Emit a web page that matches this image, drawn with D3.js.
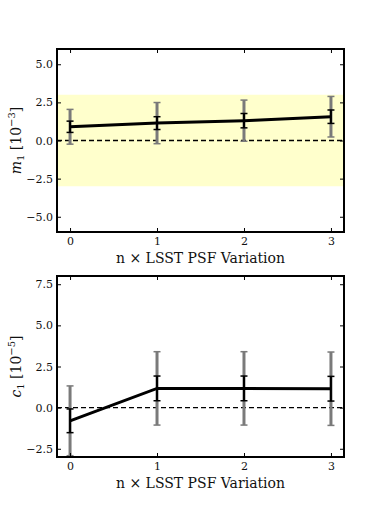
<!DOCTYPE html>
<html>
<head>
<meta charset="utf-8">
<script src="https://cdn.jsdelivr.net/npm/d3@7"></script>
<style>
    body { margin: 0; background: #fff; }
    svg { display: block; }
    text { font-family: "DejaVu Serif", serif; fill: #111; }
</style>
</head>
<body>
<svg id="chart" width="382" height="509"></svg>
<script>
const nVals = [0, 1, 2, 3];
const xTicks = [0, 1, 2, 3];

const m1 = [0.90, 1.14, 1.30, 1.56];
const m1ErrOuter = [1.14, 1.35, 1.35, 1.33];
const m1ErrInner = [0.37, 0.42, 0.47, 0.44];
const m1Band = [-3, 3];
const m1Ticks = [-5, -2.5, 0, 2.5, 5];

const c1 = [-0.80, 1.17, 1.17, 1.15];
const c1ErrOuter = [2.12, 2.23, 2.23, 2.23];
const c1ErrInner = [0.72, 0.75, 0.75, 0.75];
const c1Ticks = [-2.5, 0, 2.5, 5, 7.5];

const svg = d3.select("#chart");
const fmt = d => d3.format(".1f")(d).replace("-", "\u2212");

function panel(opts) {
    let left = 57, right = 344,
        top = opts.top, bottom = opts.bottom,
        g = svg.append("g");

    let x = d3.scaleLinear().domain([-0.15, 3.15]).range([left, right]);
    let y = d3.scaleLinear().domain(opts.yDomain).range([bottom, top]);

    let clipId = "clip" + opts.name;
    svg.append("clipPath").attr("id", clipId)
        .append("rect")
        .attr("x", left).attr("y", top)
        .attr("width", right - left).attr("height", bottom - top);

    let plot = g.append("g").attr("clip-path", "url(#" + clipId + ")");

    if (opts.band) {
        plot.append("rect")
            .attr("x", left)
            .attr("width", right - left)
            .attr("y", y(opts.band[1]))
            .attr("height", y(opts.band[0]) - y(opts.band[1]))
            .attr("fill", "#ffffcc");
    }

    plot.append("line")
        .attr("x1", left).attr("x2", right)
        .attr("y1", y(0)).attr("y2", y(0))
        .attr("stroke", "#000")
        .attr("stroke-width", 1.3)
        .attr("stroke-dasharray", "5,3");

    let pts = nVals.map((n, i) => ({n: n, v: opts.vals[i], eo: opts.errOuter[i], ei: opts.errInner[i]}));

    function errorBars(key, color, width, cap) {
        let eb = plot.append("g").selectAll("g")
            .data(pts)
            .enter().append("g")
            .attr("stroke", color)
            .attr("stroke-width", width);
        eb.append("line")
            .attr("x1", d => x(d.n)).attr("x2", d => x(d.n))
            .attr("y1", d => y(d.v - d[key])).attr("y2", d => y(d.v + d[key]));
        eb.append("line")
            .attr("x1", d => x(d.n) - cap).attr("x2", d => x(d.n) + cap)
            .attr("y1", d => y(d.v + d[key])).attr("y2", d => y(d.v + d[key]))
            .attr("stroke-width", 1.5);
        eb.append("line")
            .attr("x1", d => x(d.n) - cap).attr("x2", d => x(d.n) + cap)
            .attr("y1", d => y(d.v - d[key])).attr("y2", d => y(d.v - d[key]))
            .attr("stroke-width", 1.5);
    }

    errorBars("eo", "#7a7a7a", 3, 3.5);

    plot.append("path")
        .datum(pts)
        .attr("fill", "none")
        .attr("stroke", "#000")
        .attr("stroke-width", 3)
        .attr("d", d3.line().x(d => x(d.n)).y(d => y(d.v)));

    errorBars("ei", "#000", 2, 3.5);

    // inward ticks on all four sides
    let tk = 4;
    g.append("g").attr("transform", "translate(0," + bottom + ")")
        .call(d3.axisBottom(x).tickValues(xTicks).tickSizeInner(-tk).tickSizeOuter(0).tickPadding(5).tickFormat(d3.format("d")));
    g.append("g").attr("transform", "translate(0," + top + ")")
        .call(d3.axisTop(x).tickValues(xTicks).tickSizeInner(-tk).tickSizeOuter(0).tickFormat(""));
    g.append("g").attr("transform", "translate(" + left + ",0)")
        .call(d3.axisLeft(y).tickValues(opts.ticks).tickSizeInner(-tk).tickSizeOuter(0).tickPadding(4).tickFormat(fmt));
    g.append("g").attr("transform", "translate(" + right + ",0)")
        .call(d3.axisRight(y).tickValues(opts.ticks).tickSizeInner(-tk).tickSizeOuter(0).tickFormat(""));

    g.selectAll(".domain").remove();
    g.selectAll(".tick line").attr("stroke", "#000").attr("stroke-width", 1);
    g.selectAll(".tick text").style("font-family", "'DejaVu Serif', serif").style("font-size", "11px").attr("fill", "#222");

    g.append("rect")
        .attr("x", left).attr("y", top)
        .attr("width", right - left).attr("height", bottom - top)
        .attr("fill", "none")
        .attr("stroke", "#000")
        .attr("stroke-width", 2);

    g.append("text")
        .attr("x", (left + right) / 2)
        .attr("y", bottom + 30.5)
        .attr("text-anchor", "middle")
        .style("font-size", "14px")
        .text("n \u00d7 LSST PSF Variation");

    let yl = g.append("text")
        .attr("transform", "translate(21," + ((top + bottom) / 2) + ") rotate(-90)")
        .attr("text-anchor", "middle")
        .style("font-size", "14px");
    yl.append("tspan").style("font-style", "italic").text(opts.sym);
    yl.append("tspan").attr("dy", 3).style("font-size", "10px").text("1");
    yl.append("tspan").attr("dy", -3).text(" [10");
    yl.append("tspan").attr("dy", -6).style("font-size", "10px").text("\u2212" + opts.exp);
    yl.append("tspan").attr("dy", 6).text("]");
}

panel({name: "m", top: 49, bottom: 232, yDomain: [-6, 6], vals: m1, errOuter: m1ErrOuter, errInner: m1ErrInner, band: m1Band, ticks: m1Ticks, sym: "m", exp: "3"});
panel({name: "c", top: 276, bottom: 457, yDomain: [-3, 8], vals: c1, errOuter: c1ErrOuter, errInner: c1ErrInner, band: null, ticks: c1Ticks, sym: "c", exp: "5"});
</script>
</body>
</html>
